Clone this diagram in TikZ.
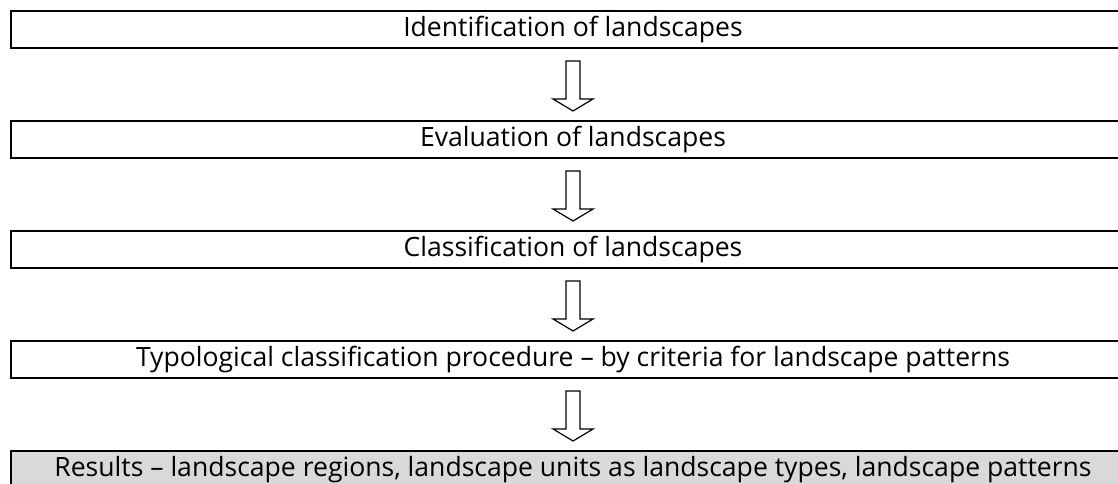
\documentclass[tikz,border=0pt]{standalone}
\usepackage{fontspec}
\setmainfont{Open Sans}
\usetikzlibrary{calc}
\newlength\refw
\AtBeginDocument{%
  \settowidth\refw{\fontsize{18}{20}\selectfont Typological classification procedure -- by criteria for landscape patterns}%
  \pgfmathsetmacro\fsz{18*874/\refw}%
  \xdef\fsz{\fsz}}
\tikzset{
  stepbox/.style={draw=black, line width=2pt, minimum width=1124pt, minimum height=37pt,
    inner sep=0pt, font=\fontsize{\fsz}{\fsz}\selectfont, text=black},
  resultbox/.style={stepbox, fill=black!15},
  downarrow/.pic={\draw[line width=1.2pt, line join=miter] (-7,0) -- (7,0) -- (7,-38) -- (20,-38) -- (0,-50) -- (-20,-38) -- (-7,-38) -- cycle;}
}
\begin{document}
\begin{tikzpicture}[x=1pt,y=1pt]
\useasboundingbox (0,0) rectangle (1118,484);
\clip (0,0) rectangle (1118,484);
\node[stepbox] (b1) at (573,454.5) {Identification of landscapes};
\node[stepbox] (b2) at (573,344.5) {Evaluation of landscapes};
\node[stepbox] (b3) at (573,234.5) {Classification of landscapes};
\node[stepbox] (b4) at (573,124.5) {Typological classification procedure -- by criteria for landscape patterns};
\node[resultbox] (b5) at (573,14.5) {Results -- landscape regions, landscape units as landscape types, landscape patterns};
\pic at ($(b1.south)+(0,-12)$) {downarrow};
\pic at ($(b2.south)+(0,-12)$) {downarrow};
\pic at ($(b3.south)+(0,-12)$) {downarrow};
\pic at ($(b4.south)+(0,-12)$) {downarrow};
\end{tikzpicture}
\end{document}
